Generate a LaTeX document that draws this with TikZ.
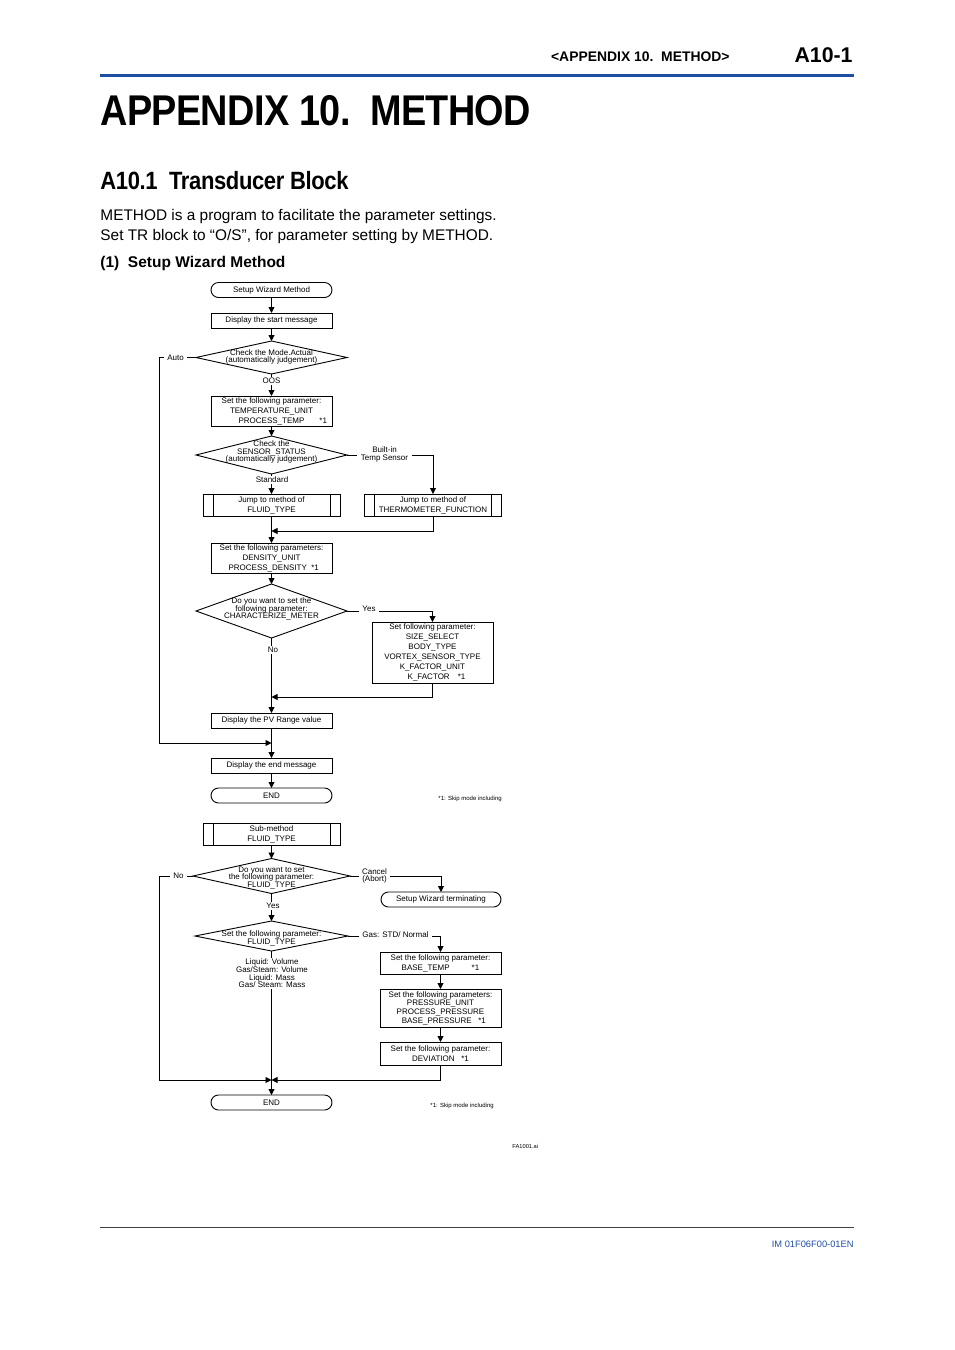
\documentclass[tikz,border=0pt]{standalone}
\usepackage{fontspec}
\setmainfont{Liberation Sans}
\newfontfamily\headfont[FakeStretch=0.88,LetterSpace=-1.5]{Liberation Sans}
\usepackage{xcolor}
\usepackage{tikz}
\usetikzlibrary{shapes.geometric}
\usetikzlibrary{arrows.meta}
\definecolor{ykblue}{RGB}{31,78,165}
\newcommand{\chartfont}{\fontsize{8}{10}\selectfont}
\newcommand{\askfont}{\fontsize{8}{7.6}\selectfont}
\newcommand{\subbars}[1]{\draw ([xshift=10]#1.north west) -- ([xshift=10]#1.south west)
	([xshift=-10]#1.north east) -- ([xshift=-10]#1.south east);}
\tikzset{
	proc node/.style={draw,rectangle,minimum width=121,minimum height=15,inner sep=1,outer sep=0,align=center,font=\chartfont},
	term node/.style={draw,rectangle,rounded corners=7.5,minimum width=121,minimum height=15,inner sep=1,outer sep=0,font=\chartfont},
	sub node/.style={draw,rectangle,minimum width=137,minimum height=22,inner sep=1,outer sep=0,align=center,font=\chartfont},
	ask node/.style={draw,diamond,inner sep=0,outer sep=0,minimum width=151},
	ask text/.style={align=center,font=\askfont,inner sep=0},
	flow label/.style={align=center,font=\askfont,fill=white,inner xsep=3.5,inner ysep=1},
	note/.style={font=\fontsize{6}{6}\selectfont,inner sep=0,anchor=west}
}

\begin{document}
\begin{tikzpicture}[x=1pt,y=-1pt,line width=0.9pt,>={Triangle[length=6pt,width=6pt]}]
	\useasboundingbox (0,0) rectangle (954,1350);
	% page head
	\node [anchor=base east,inner sep=0,font=\fontsize{13.9}{14}\selectfont\bfseries] (headtxt) at (730,61.5) {<APPENDIX 10.\ \ METHOD>};
	\node [anchor=base east,inner sep=0,font=\fontsize{21.3}{22}\selectfont\bfseries] (pageno) at (853,62) {A10-1};
	\draw [ykblue,line width=3.3] (100,75.5) -- (854,75.5);
	\node [anchor=base west,inner sep=0,font=\headfont\fontsize{43}{43}\selectfont\bfseries] (title) at (100,125) {APPENDIX 10.\ \ METHOD};
	\node [anchor=base west,inner sep=0,font=\headfont\fontsize{25}{25}\selectfont\bfseries] (section) at (100,189) {A10.1\ \ Transducer Block};
	\node [anchor=base west,inner sep=0,font=\fontsize{15.4}{20}\selectfont] (intro1) at (100,220) {METHOD is a program to facilitate the parameter settings.};
	\node [anchor=base west,inner sep=0,font=\fontsize{15.4}{20}\selectfont] (intro2) at (100,240) {Set TR block to “O/S”, for parameter setting by METHOD.};
	\node [anchor=base west,inner sep=0,font=\fontsize{15.5}{16}\selectfont\bfseries] (subsec) at (100,267) {(1)\ \ Setup Wizard Method};

	% setup wizard method
	\node [term node] (start) at (271.5,290) {Setup Wizard Method};
	\node [proc node] (msg) at (271.5,320.5) {Display the start message};
	\node [ask node,minimum height=33] (mode) at (271.5,357.5) {};
	\node [ask text] (modet) at (271.5,357) {Check the Mode.Actual\\(automatically judgement)};
	\node [proc node,minimum height=30] (ptemp) at (271.5,411) {Set the following parameter:\\TEMPERATURE\_UNIT\\PROCESS\_TEMP\rlap{\hspace{15pt}*1}};
	\node [ask node,minimum height=38] (sensor) at (271.5,455) {};
	\node [ask text] (sensort) at (271.5,452) {Check the\\SENSOR\_STATUS\\(automatically judgement)};
	\node [sub node] (jfluid) at (271.5,505) {Jump to method of\\FLUID\_TYPE};
	\node [sub node] (jthermo) at (433,505) {Jump to method of\\THERMOMETER\_FUNCTION};
	\subbars{jfluid}
	\subbars{jthermo}
	\node [proc node,minimum height=30] (pdens) at (271.5,558) {Set the following parameters:\\DENSITY\_UNIT\\\ \ PROCESS\_DENSITY\ \ *1};
	\node [ask node,minimum height=54] (charq) at (271.5,611) {};
	\node [ask text] (charqt) at (271.5,609) {Do you want to set the\\following parameter:\\CHARACTERIZE\_METER};
	\node [proc node,minimum height=61] (pchar) at (432.5,652.5) {Set following parameter:\\SIZE\_SELECT\\BODY\_TYPE\\VORTEX\_SENSOR\_TYPE\\K\_FACTOR\_UNIT\\\quad K\_FACTOR\quad*1};
	\node [proc node] (pvrange) at (271.5,720.5) {Display the PV Range value};
	\node [proc node] (endmsg) at (271.5,765.5) {Display the end message};
	\node [term node] (endA) at (271.5,795.5) {END};
	\node [note] (noteA) at (438,799) {*1: Skip mode including};
	\coordinate (joinA) at (271.5,743);
	\coordinate (joinB) at (271.5,531);
	\coordinate (joinC) at (271.5,697);

	\draw [->] (start) -- (msg);
	\draw [->] (msg) -- (mode);
	\draw [->] (mode.south) -- (ptemp.north);
	\draw [->] (ptemp) -- (sensor);
	\draw [->] (sensor.south) -- (jfluid.north);
	\draw [->] (sensor.east) -| (jthermo.north);
	\draw [->] (jfluid.south) -- (pdens.north);
	\draw [->] (jthermo.south) |- (joinB);
	\draw [->] (pdens) -- (charq);
	\draw [->] (charq.south) -- (pvrange.north);
	\draw [->] (charq.east) -| (pchar.north);
	\draw [->] (pchar.south) |- (joinC);
	\draw [->] (mode.west) -- ++(-37,0) |- (joinA);
	\draw [->] (pvrange) -- (endmsg);
	\draw [->] (endmsg) -- (endA);
	\node [flow label] (oos) at (271.5,381) {OOS};
	\node [flow label] (auto) at (175.5,357.5) {Auto};
	\node [flow label] (std) at (272,480) {Standard};
	\node [flow label] (builtin) at (384.5,454.5) {Built-in\\Temp Sensor};
	\node [flow label] (yesA) at (369,609) {Yes};
	\node [flow label] (noA) at (273,650) {No};

	% sub-method fluid type
	\node [sub node] (sub) at (271.5,834) {Sub-method\\FLUID\_TYPE};
	\subbars{sub}
	\node [ask node,minimum width=157,minimum height=35] (fluidq) at (271.5,876) {};
	\node [ask text] (fluidqt) at (271.5,878) {Do you want to set\\the following parameter:\\FLUID\_TYPE};
	\node [term node,minimum width=120] (wizend) at (441,899.5) {Setup Wizard terminating};
	\node [ask node,minimum width=153,minimum height=30] (fluidset) at (271.5,936) {};
	\node [ask text] (fluidsett) at (271.5,938.5) {Set the following parameter:\\FLUID\_TYPE};
	\node [proc node,minimum height=22] (pbase) at (440.5,963) {Set the following parameter:\\BASE\_TEMP\hspace{22pt}*1};
	\node [proc node,minimum height=38,font=\fontsize{8}{8.7}\selectfont] (ppress) at (440.5,1008) {Set the following parameters:\\PRESSURE\_UNIT\\PROCESS\_PRESSURE\\\ \ \ BASE\_PRESSURE\ \ \ *1};
	\node [proc node,minimum height=23] (pdev) at (440.5,1053.5) {Set the following parameter:\\DEVIATION\ \ \ *1};
	\node [term node] (endB) at (271.5,1102.5) {END};
	\node [note] (noteB) at (430,1106) {*1: Skip mode including};
	\node [note,font=\fontsize{5.7}{6}\selectfont] (figid) at (512,1146) {FA1001.ai};
	\coordinate (joinD) at (271.5,1080);

	\draw [->] (sub) -- (fluidq);
	\draw [->] (fluidq.south) -- (fluidset.north);
	\draw [->] (fluidq.east) -| (wizend.north);
	\draw [->] (fluidq.west) -- ++(-34,0) |- (joinD);
	\draw [->] (fluidset.east) -| (pbase.north);
	\draw [->] (fluidset.south) -- (endB.north);
	\draw [->] (pbase) -- (ppress);
	\draw [->] (ppress) -- (pdev);
	\draw [->] (pdev.south) |- (joinD);
	\node [flow label] (noB) at (178.5,876) {No};
	\node [flow label] (cancel) at (374.5,876) {Cancel\\(Abort)};
	\node [flow label] (yesB) at (273,906) {Yes};
	\node [flow label] (gas) at (395.5,935) {Gas: STD/ Normal};
	\node [flow label] (kinds) at (272,973.5) {Liquid: Volume\\Gas/Steam: Volume\\Liquid: Mass\\Gas/ Steam: Mass};

	% page foot
	\draw [black!75,line width=0.8] (100,1227.5) -- (854,1227.5);
	\node [anchor=base east,inner sep=0,font=\fontsize{9.3}{10}\selectfont,text=ykblue] (docno) at (854,1247) {IM 01F06F00-01EN};
\end{tikzpicture}
\end{document}
